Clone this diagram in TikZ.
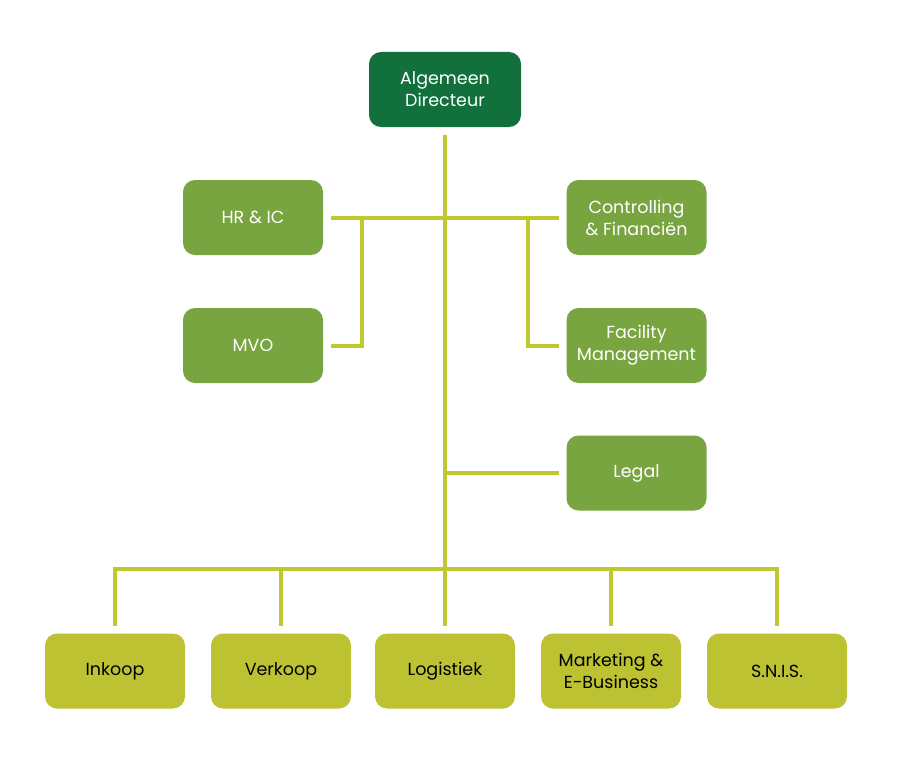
\documentclass[tikz,border=0pt]{standalone}
\usepackage{fontspec}
\setmainfont{Poppins}
\definecolor{dgreen}{HTML}{11703C}
\definecolor{mgreen}{HTML}{78A53F}
\definecolor{ygreen}{HTML}{BDC233}
\definecolor{lcol}{HTML}{C0C830}
\begin{document}
\begin{tikzpicture}[x=1pt,y=-1pt,
  box/.style={rounded corners=12pt,minimum width=140pt,minimum height=75pt,inner sep=0pt,outer sep=8pt,align=center,font=\fontsize{17.5}{22}\selectfont},
  topbox/.style={box,fill=dgreen,text=white,minimum width=152pt},
  midbox/.style={box,fill=mgreen,text=white},
  botbox/.style={box,fill=ygreen,text=black},
  conn/.style={draw=lcol,line width=4pt}]
\useasboundingbox (0,0) rectangle (900,760);
\fill[white] (0,0) rectangle (900,760);
\node[topbox] (ad) at (445,89.5) {Algemeen\\Directeur};
\node[midbox] (hr) at (253,217.5) {HR \& IC};
\node[midbox] (mvo) at (253,345.5) {MVO};
\node[midbox] (cf) at (636.5,217.5) {Controlling\\\& Financiën};
\node[midbox] (fm) at (636.5,345.5) {Facility\\Management};
\node[midbox] (lg) at (636.5,473) {Legal};
\node[botbox] (ink) at (115,671) {Inkoop};
\node[botbox] (ver) at (281,671) {Verkoop};
\node[botbox] (log) at (445,671) {Logistiek};
\node[botbox] (mkt) at (611,671) {Marketing \&\\E-Business};
\node[botbox] (sn) at (777,671) {S.N.I.S.};
\coordinate (jl) at (362,217.5);
\coordinate (jr) at (528,217.5);
\coordinate (jlg) at (445,473);
\coordinate (bus) at (445,569);
\draw[conn] (ad.south) -- (log.north);
\draw[conn] (hr.east) -- (cf.west);
\draw[conn] (jl) |- (mvo.east);
\draw[conn] (jr) |- (fm.west);
\draw[conn] (jlg) -- (lg.west);
\draw[conn,line cap=rect] (ink.north |- bus) -- (sn.north |- bus);
\foreach \n in {ink,ver,mkt,sn} \draw[conn] (\n.north |- bus) -- (\n.north);
\end{tikzpicture}
\end{document}
